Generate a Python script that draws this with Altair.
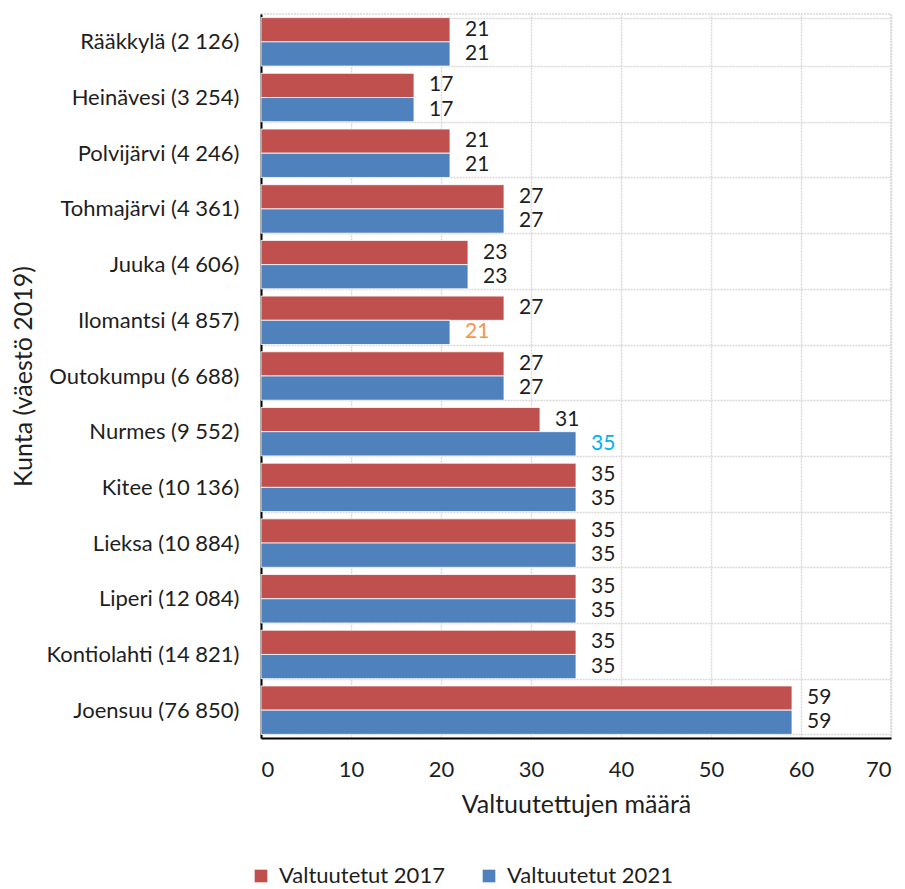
import altair as alt
import pandas as pd

kunnat = [
    "Rääkkylä (2 126)", "Heinävesi (3 254)", "Polvijärvi (4 246)", "Tohmajärvi (4 361)",
    "Juuka (4 606)", "Ilomantsi (4 857)", "Outokumpu (6 688)", "Nurmes (9 552)",
    "Kitee (10 136)", "Lieksa (10 884)", "Liperi (12 084)", "Kontiolahti (14 821)",
    "Joensuu (76 850)",
]
valtuutetut_2017 = [21, 17, 21, 27, 23, 27, 27, 31, 35, 35, 35, 35, 59]
valtuutetut_2021 = [21, 17, 21, 27, 23, 21, 27, 35, 35, 35, 35, 35, 59]
label_colors_2017 = ["#1e1e1e"] * 13
label_colors_2021 = ["#1e1e1e"] * 5 + ["#F79646", "#1e1e1e", "#00B0F0"] + ["#1e1e1e"] * 5
series = ["Valtuutetut 2017", "Valtuutetut 2021"]
series_colors = ["#C0504D", "#4F81BD"]

rows = []
for i, k in enumerate(kunnat):
    rows.append({"Kunta": k, "Sarja": series[0], "Arvo": valtuutetut_2017[i], "LabelColor": label_colors_2017[i]})
    rows.append({"Kunta": k, "Sarja": series[1], "Arvo": valtuutetut_2021[i], "LabelColor": label_colors_2021[i]})
df = pd.DataFrame(rows)

FONT = "Lato"
FS = 22
TFS = 25
TXT = "#1e1e1e"

y_enc = alt.Y(
    "Kunta:N", sort=kunnat,
    scale=alt.Scale(paddingInner=0.13, paddingOuter=0.065),
    axis=alt.Axis(
        title="Kunta (väestö 2019)", tickSize=0, labelPadding=22, tickBand="extent",
        labelLimit=300, grid=True, gridColor="#d9d9d9", gridDash=[2, 1], gridWidth=1.5,
        domainColor="#000000", domainWidth=2, titleX=-225, titleBaseline="bottom",
    ),
)
yoff_enc = alt.YOffset("Sarja:N", sort=series, scale=alt.Scale(paddingInner=0, paddingOuter=0))
x_enc = alt.X(
    "Arvo:Q", scale=alt.Scale(domain=[0, 70], nice=False),
    axis=alt.Axis(
        title="Valtuutettujen määrä", values=[0, 10, 20, 30, 40, 50, 60, 70], tickSize=0,
        labelPadding=21, titlePadding=12, grid=True, gridColor="#d9d9d9", gridDash=[2, 1],
        gridWidth=1.5, domainColor="#000000", domainWidth=2, format="d",
    ),
)

bars = alt.Chart(df).mark_bar(stroke="white", strokeWidth=0.8).encode(
    y=y_enc, yOffset=yoff_enc, x=x_enc,
    color=alt.Color(
        "Sarja:N", sort=series,
        scale=alt.Scale(domain=series, range=series_colors),
        legend=alt.Legend(
            title=None, orient="none", direction="horizontal", legendX=-11, legendY=851,
            symbolType="square", symbolSize=160, symbolStrokeWidth=0, labelOffset=7,
            columnPadding=33, labelFontSize=FS, labelFont=FONT, labelColor=TXT,
            labelLimit=300,
        ),
    ),
)

labels = alt.Chart(df).mark_text(align="left", baseline="middle", dx=15, font=FONT, fontSize=21).encode(
    y=alt.Y("Kunta:N", sort=kunnat), yOffset=alt.YOffset("Sarja:N", sort=series),
    x=alt.X("Arvo:Q"), text=alt.Text("Arvo:Q", format="d"),
    color=alt.Color("LabelColor:N", scale=None),
)

chart = (
    alt.layer(bars, labels)
    .resolve_scale(color="independent")
    .properties(
        width=630, height=724,
        autosize=alt.AutoSizeParams(type="none"),
        padding={"left": 253, "top": 6, "right": 6, "bottom": 151},
    )
    .configure_view(stroke="#d9d9d9", strokeDash=[2, 1], strokeWidth=1.5)
    .configure_axis(
        labelFont=FONT, labelFontSize=FS, labelColor=TXT,
        titleFont=FONT, titleFontSize=TFS, titleColor=TXT, titleFontWeight="normal",
    )
)

chart.save("out.html", embed_options={"renderer": "svg", "actions": False})
